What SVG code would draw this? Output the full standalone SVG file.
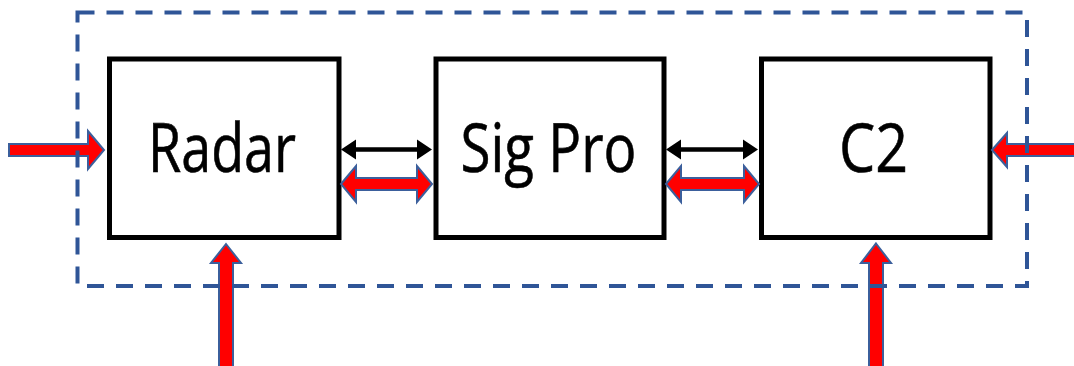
<svg xmlns="http://www.w3.org/2000/svg" width="1074" height="366" viewBox="0 0 1074 366">
  <style>
    .box { fill: #ffffff; stroke: #000000; stroke-width: 5; }
    .label { font-family: "Open Sans", "Noto Sans", "Liberation Sans", sans-serif; font-size: 68px; fill: #000000; stroke: #000000; stroke-width: 0.6; }
    .flow { fill: #ff0000; stroke: #3b5f9c; stroke-width: 2; stroke-linejoin: miter; }
    .link { fill: #000000; stroke: none; }
    .boundary { fill: none; stroke: #2f5597; stroke-width: 4; stroke-dasharray: 17 12; }
  </style>

  <rect width="1074" height="366" fill="#ffffff"/>

  <!-- processing blocks -->
  <g id="radar">
    <rect class="box" x="109.5" y="59" width="229.5" height="178.5"/>
    <text class="label" x="148" y="172" textLength="148" lengthAdjust="spacingAndGlyphs">Radar</text>
  </g>
  <g id="sig-pro">
    <rect class="box" x="436" y="59" width="228" height="178.5"/>
    <text class="label" x="460.5" y="172" textLength="176" lengthAdjust="spacingAndGlyphs">Sig Pro</text>
  </g>
  <g id="c2">
    <rect class="box" x="761.5" y="59" width="228.5" height="178.5"/>
    <text class="label" x="839" y="172" textLength="69" lengthAdjust="spacingAndGlyphs">C2</text>
  </g>

  <!-- connectors -->
  <g id="connectors">
    <!-- data links between blocks -->
    <polygon class="link" points="341,149.5 356,139.5 356,147.3 417,147.3 417,139.5 432,149.5 417,159.5 417,151.7 356,151.7 356,159.5"/>
    <polygon class="link" points="666,149.5 681,139.5 681,147.3 743,147.3 743,139.5 758,149.5 743,159.5 743,151.7 681,151.7 681,159.5"/>
    <!-- two-way flows between blocks -->
    <polygon class="flow" points="341,184 356,166 356,178 417,178 417,166 432,184 417,202 417,190 356,190 356,202"/>
    <polygon class="flow" points="666,184 681,166 681,178 744,178 744,166 759,184 744,202 744,190 681,190 681,202"/>
    <!-- external inputs -->
    <polygon class="flow" points="9,144 88,144 88,131 104,150 88,169 88,156 9,156"/>
    <polygon class="flow" points="992,150 1007,133 1007,144 1078,144 1078,156 1007,156 1007,167"/>
    <polygon class="flow" points="226,244 241,263 233,263 233,370 219,370 219,263 211,263"/>
    <polygon class="flow" points="876,243.5 891,263 883,263 883,370 869,370 869,263 861,263"/>
  </g>

  <!-- system boundary -->
  <g id="boundary">
    <rect class="boundary" x="77.5" y="12.5" width="949.5" height="273.5"/>
  </g>
</svg>
